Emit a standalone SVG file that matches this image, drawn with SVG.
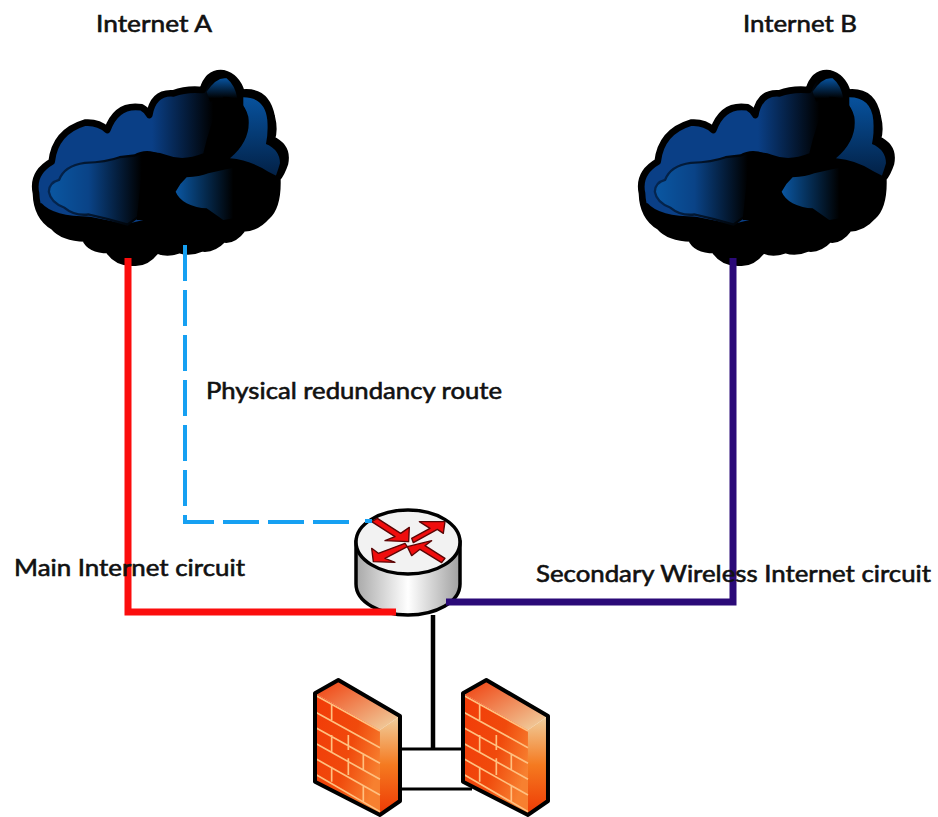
<svg xmlns="http://www.w3.org/2000/svg" xmlns:xlink="http://www.w3.org/1999/xlink" width="938" height="817" viewBox="0 0 938 817">
<style>
text{font-family:Lato,"Liberation Sans",sans-serif;font-size:23px;fill:#111;stroke:#111;stroke-width:.6px}
.c{fill:none;stroke-linejoin:miter}
.brick{fill:none;stroke:#ffc080;stroke-width:5}
.ol{stroke:#000;stroke-linejoin:round}
</style>
<defs>
<clipPath id="cc"><path id="cshape" d="M78 400Q65 340 125 305Q135 215 225 188Q265 185 292 210Q320 130 395 142Q410 150 418 165Q430 95 490 100Q530 85 578 90Q595 35 640 40Q680 50 695 98Q770 90 785 170Q795 210 785 238Q835 260 825 310Q815 340 802 355Q805 440 770 470Q740 505 700 505Q670 545 640 538Q610 570 575 565Q540 580 510 570Q470 585 440 570Q410 612 370 608Q320 610 295 570Q240 570 225 535Q160 535 130 500Q80 470 78 400Z"/></clipPath>
<linearGradient id="cb" gradientUnits="userSpaceOnUse" x1="150" y1="0" x2="610" y2="0"><stop offset="0" stop-color="#0a3f86"/><stop offset=".6" stop-color="#0a3f86"/><stop offset="1" stop-color="#000"/></linearGradient>
<linearGradient id="cr" gradientUnits="userSpaceOnUse" x1="0" y1="110" x2="0" y2="380"><stop offset="0" stop-color="#07529e"/><stop offset="1" stop-color="#021a3a"/></linearGradient>
<linearGradient id="cp" gradientUnits="userSpaceOnUse" x1="0" y1="55" x2="0" y2="115"><stop offset="0" stop-color="#07529e"/><stop offset="1" stop-color="#000"/></linearGradient>
<linearGradient id="cl" gradientUnits="userSpaceOnUse" x1="130" y1="0" x2="395" y2="0"><stop offset="0" stop-color="#0a559f"/><stop offset=".4" stop-color="#0a4387"/><stop offset="1" stop-color="#000"/></linearGradient>
<linearGradient id="cd" gradientUnits="userSpaceOnUse" x1="130" y1="0" x2="395" y2="0"><stop offset="0" stop-color="#04254f"/><stop offset="1" stop-color="#000"/></linearGradient>
<linearGradient id="cs" gradientUnits="userSpaceOnUse" x1="500" y1="0" x2="670" y2="0"><stop offset="0" stop-color="#0a559f"/><stop offset="1" stop-color="#000"/></linearGradient>
<linearGradient id="rb" x1="0" y1="0" x2="1" y2="0"><stop offset="0" stop-color="#a8a8a8"/><stop offset=".5" stop-color="#fff"/><stop offset="1" stop-color="#a0a0a0"/></linearGradient>
<linearGradient id="ft" x1="0" y1="0" x2="1" y2="1"><stop offset="0" stop-color="#f03a08"/><stop offset="1" stop-color="#f0d8a8"/></linearGradient>
<linearGradient id="ff" x1="0" y1="0" x2="1" y2=".6"><stop offset="0" stop-color="#f23a08"/><stop offset=".6" stop-color="#f04a0c"/><stop offset="1" stop-color="#f78030"/></linearGradient>
<linearGradient id="fs" x1="0" y1="0" x2="0" y2="1"><stop offset="0" stop-color="#f0d0a0"/><stop offset=".5" stop-color="#f57a20"/><stop offset="1" stop-color="#ee3a05"/></linearGradient>
<g id="cloud" transform="translate(10 60) scale(.3333)">
<path d="M78 400Q65 340 125 305Q135 215 225 188Q265 185 292 210Q320 130 395 142Q410 150 418 165Q430 95 490 100Q530 85 578 90Q595 35 640 40Q680 50 695 98Q770 90 785 170Q795 210 785 238Q835 260 825 310Q815 340 802 355Q805 440 770 470Q740 505 700 505Q670 545 640 538Q610 570 575 565Q540 580 510 570Q470 585 440 570Q410 612 370 608Q320 610 295 570Q240 570 225 535Q160 535 130 500Q80 470 78 400Z" fill="url(#cb)" stroke="#000" stroke-width="20" stroke-linejoin="round"/>
<path d="M700 112Q765 112 772 180Q775 220 768 252Q810 270 810 310Q800 345 790 365L690 340L650 300L700 200Z" fill="url(#cr)"/>
<path d="M590 95Q620 50 650 55Q675 75 682 115L600 125Z" fill="url(#cp)"/>
<path clip-path="url(#cc)" d="M640 110Q700 110 715 170Q725 240 660 295Q720 300 775 335L900 400V700H0V430H95Q130 470 240 470L350 492L400 480L375 295Q420 265 470 285Q520 305 580 280Q600 190 640 110Z" fill="#000"/>
<path d="M120 395Q120 370 150 362Q165 320 225 312Q290 310 330 295L375 290Q410 270 450 290L450 420L352 490Q290 472 235 460Q195 465 165 440Q125 425 120 395Z" fill="url(#cl)" stroke="url(#cd)" stroke-width="14" paint-order="stroke"/>
<path d="M400 300H620V345L500 400L440 480H380Z" fill="#000"/>
<path d="M497 395Q510 370 530 352Q570 350 595 340Q650 325 700 320L760 340V460L640 480L590 445Q560 445 530 430Q505 415 497 395Z" fill="url(#cs)"/>
</g>
<g id="wall" transform="translate(300 670) scale(.3333)">
<path d="M45 70L115 30L300 138L240 180Z" fill="url(#ft)"/>
<path d="M45 70L240 180V432L45 335Z" fill="url(#ff)"/>
<path d="M240 180L300 138V393L240 432Z" fill="url(#fs)"/>
<path class="brick" d="M50 78L240 183M50 128L240 233M50 175L240 280M50 222L240 328M50 268L240 375M50 315L240 425M95 105V150M145 195V240M95 195V245M190 250V300M145 265V315M95 290V335M190 345V395"/>
<path class="ol" d="M45 70L115 30L300 138V393L240 435L45 335Z" fill="none" stroke-width="12"/>
</g>
</defs>

<g id="internet-a"><use href="#cloud"/><text x="96" y="32" textLength="116" lengthAdjust="spacingAndGlyphs">Internet A</text></g>
<g id="internet-b"><use href="#cloud" x="606"/><text x="743" y="32" textLength="114" lengthAdjust="spacingAndGlyphs">Internet B</text></g>

<g id="router">
<path d="M356 542V584C356 602 380 615 408 615C436 615 460 602 460 584V542Z" fill="url(#rb)" stroke="#000" stroke-width="3.500"/>
<ellipse cx="408" cy="542" rx="52" ry="32" fill="#f2f2f2" stroke="#000" stroke-width="3.500"/>
<g transform="translate(330 490) scale(.3333)" fill="#f00d0d" stroke="#5a0505" stroke-width="4" stroke-linejoin="round">
<path d="M125 95L142 85L212 130L238 112L236 155L165 152L195 140Z"/>
<path d="M245 145L300 115L268 95L345 95L340 130L322 118L250 158Z"/>
<path d="M225 160L232 170L165 205L195 217L130 215L125 175L145 190Z"/>
<path d="M345 205L335 218L270 178L245 197L232 170L305 152L285 167Z"/>
</g>
</g>

<g id="connectors">
<path class="c" stroke="#fb0d0d" stroke-width="7" d="M128 258V612H396"/>
<path class="c" stroke="#16a0f2" stroke-width="4" stroke-dasharray="36 9" d="M185 245V522H350M365 521H372"/>
<path class="c" stroke="#2b0a78" stroke-width="7" d="M733 258V602H446"/>
<path class="c" stroke="#000" stroke-width="4.500" d="M433 615V749"/>
<path class="c" stroke="#000" stroke-width="3" d="M402 749H463M402 789H472"/>
</g>

<g id="firewall-left"><use href="#wall"/></g>
<g id="firewall-right"><use href="#wall" x="148"/></g>

<g id="labels">
<text x="206" y="399" textLength="296" lengthAdjust="spacingAndGlyphs">Physical redundancy route</text>
<text x="14" y="576" textLength="231" lengthAdjust="spacingAndGlyphs">Main Internet circuit</text>
<text x="536" y="582" textLength="395" lengthAdjust="spacingAndGlyphs">Secondary Wireless Internet circuit</text>
</g>
</svg>
